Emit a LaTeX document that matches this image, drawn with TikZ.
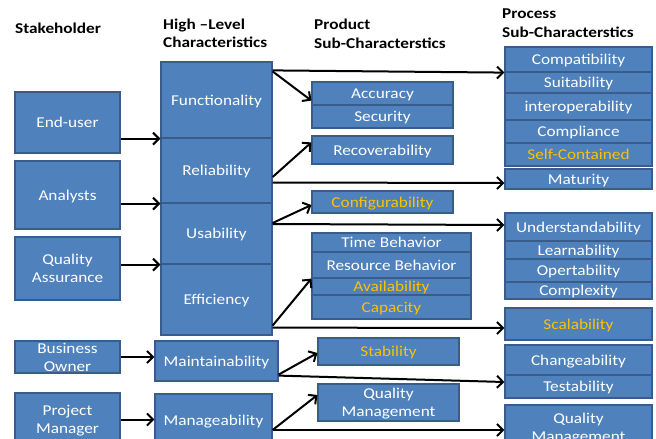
\documentclass[tikz,border=0pt]{standalone}
\usepackage{fontspec}
\setmainfont{Carlito}
\newfontfamily\boxfont[FakeStretch=1.15]{Carlito}
\usetikzlibrary{arrows.meta}

\definecolor{boxfill}{HTML}{4F81BD}
\definecolor{boxline}{HTML}{385D8A}
\definecolor{gold}{HTML}{FFC000}

\tikzset{
    box/.style={draw=boxline, fill=boxfill, line width=1.2pt, text=white, inner sep=0pt,
        text depth=0pt, align=center, font=\boxfont\fontsize{15}{18}\selectfont},
    hl/.style={text=gold},
    head/.style={anchor=base west, inner sep=0pt, align=left,
        font=\boxfont\bfseries\fontsize{15}{18.5}\selectfont},
    conn/.style={line width=2pt, -{Straight Barb[length=6pt,width=12pt]}}
}

\begin{document}
\begin{tikzpicture}[x=1pt,y=-1pt]
    \useasboundingbox (0,0) rectangle (656,439);

    % column headings (base = last line)
    \node[head] (hstake) at (15,34) {Stakeholder};
    \node[head] (hhigh) at (163,47.5) {High –Level\\Characteristics};
    \node[head] (hprod) at (314,48) {Product\\Sub-Characterstics};
    \node[head] (hproc) at (502,37.5) {Process\\Sub-Characterstics};

    % stakeholders
    \node[box, minimum width=105pt, minimum height=61pt] (eu) at (67.5,122.5) {End-user};
    \node[box, minimum width=105pt, minimum height=68pt] (an) at (67.5,195) {Analysts};
    \node[box, minimum width=105pt, minimum height=63pt] (qa) at (67.5,268.5) {Quality\\Assurance};
    \node[box, minimum width=105pt, minimum height=32pt] (bo) at (67.5,357) {Business\\Owner};
    \node[box, minimum width=105pt, minimum height=53pt] (pm) at (67.5,419.5) {Project\\Manager};

    % high-level characteristics
    \node[box, minimum width=111pt, minimum height=76pt] (fun) at (216.5,100) {Functionality};
    \node[box, minimum width=111pt, minimum height=65pt] (rel) at (216.5,170.5) {Reliability};
    \node[box, minimum width=111pt, minimum height=61pt] (usa) at (216.5,233.5) {Usability};
    \node[box, minimum width=111pt, minimum height=71pt] (eff) at (216.5,299.5) {Efficiency};
    \node[box, minimum width=123pt, minimum height=40pt] (mai) at (216.5,361) {Maintainability};
    \node[box, minimum width=117pt, minimum height=52pt] (man) at (213.5,420) {Manageability};

    % product sub-characteristics
    \node[box, minimum width=141pt, minimum height=23pt] (acc) at (382.5,93.5) {Accuracy};
    \node[box, minimum width=141pt, minimum height=23pt] (sec) at (382.5,116.5) {Security};
    \node[box, minimum width=141pt, minimum height=28pt] (rec) at (382.5,150) {Recoverability};
    \node[box, hl, minimum width=141pt, minimum height=22pt] (con) at (382.5,202) {Configurability};
    \node[box, minimum width=159pt, minimum height=19pt] (tb) at (391.5,242.5) {Time Behavior};
    \node[box, minimum width=159pt, minimum height=26pt] (rb) at (391.5,265) {Resource Behavior};
    \node[box, hl, minimum width=159pt, minimum height=17pt] (ava) at (391.5,286.5) {Availability};
    \node[box, hl, minimum width=159pt, minimum height=24pt] (cap) at (391.5,307) {Capacity};
    \node[box, hl, minimum width=141pt, minimum height=27pt] (sta) at (388.5,351.5) {Stability};
    \node[box, minimum width=141pt, minimum height=37pt] (qmp) at (388.5,402.5) {Quality\\Management};

    % process sub-characteristics
    \node[box, minimum width=147pt, minimum height=25pt] (cmp) at (578.5,59.5) {Compatibility};
    \node[box, minimum width=147pt, minimum height=21pt] (sui) at (578.5,82.5) {Suitability};
    \node[box, minimum width=147pt, minimum height=27pt] (int) at (578.5,106.5) {interoperability};
    \node[box, minimum width=147pt, minimum height=23pt] (cpl) at (578.5,131.5) {Compliance};
    \node[box, hl, minimum width=147pt, minimum height=23pt] (sc) at (578.5,154.5) {Self-Contained};
    \node[box, minimum width=147pt, minimum height=20pt] (mat) at (578.5,179) {Maturity};
    \node[box, minimum width=147pt, minimum height=28pt] (und) at (578.5,227) {Understandability};
    \node[box, minimum width=147pt, minimum height=18pt] (lea) at (578.5,250) {Learnability};
    \node[box, minimum width=147pt, minimum height=23pt] (ope) at (578.5,270.5) {Opertability};
    \node[box, minimum width=147pt, minimum height=17pt] (cx) at (578.5,290.5) {Complexity};
    \node[box, hl, minimum width=147pt, minimum height=32pt] (scl) at (578.5,324) {Scalability};
    \node[box, minimum width=147pt, minimum height=30pt] (chg) at (578.5,360) {Changeability};
    \node[box, minimum width=147pt, minimum height=23pt] (tst) at (578.5,386.5) {Testability};
    \node[box, minimum width=147pt, minimum height=45pt] (qmq) at (578.5,427.5) {Quality\\Management};

    % stakeholders to characteristics
    \draw[conn] (eu.east |- fun.south west) -- (fun.south west);
    \draw[conn] (an.east |- rel.south west) -- (rel.south west);
    \draw[conn] (qa.east |- usa.south west) -- (usa.south west);
    \draw[conn] (bo.east) -- (bo.east -| mai.west);
    \draw[conn] (pm.east) -- (pm.east -| man.west);

    % characteristics to sub-characteristics
    \draw[conn] ([yshift=-9pt]fun.north east) -- (cmp.south west);
    \draw[conn] ([yshift=-10pt]fun.north east) -- ([yshift=5pt]acc.south west);
    \draw[conn] ([yshift=-6.5pt]rel.east) -- ([yshift=-7pt]rec.north west);
    \draw[conn] ([yshift=-12pt]rel.east) -- ([yshift=-4pt]mat.west);
    \draw[conn] ([yshift=10.5pt]usa.east) -- ([yshift=-3pt]con.west);
    \draw[conn] ([yshift=9.5pt]usa.east) -- ([yshift=2pt]und.west);
    \draw[conn] ([yshift=10pt]eff.south east) -- (rb.south west);
    \draw[conn] ([yshift=8pt]eff.south east) -- ([yshift=-4pt]scl.west);
    \draw[conn] ([yshift=7pt]mai.south east) -- ([yshift=-1.5pt]sta.west);
    \draw[conn] ([yshift=6pt]mai.south east) -- ([yshift=4.5pt]tst.west);
    \draw[conn] ([yshift=-10pt]man.east) -- ([yshift=7.5pt]qmp.west);
    \draw[conn] ([yshift=-10pt]man.east) -- ([yshift=-2.5pt]qmq.west);
\end{tikzpicture}
\end{document}
